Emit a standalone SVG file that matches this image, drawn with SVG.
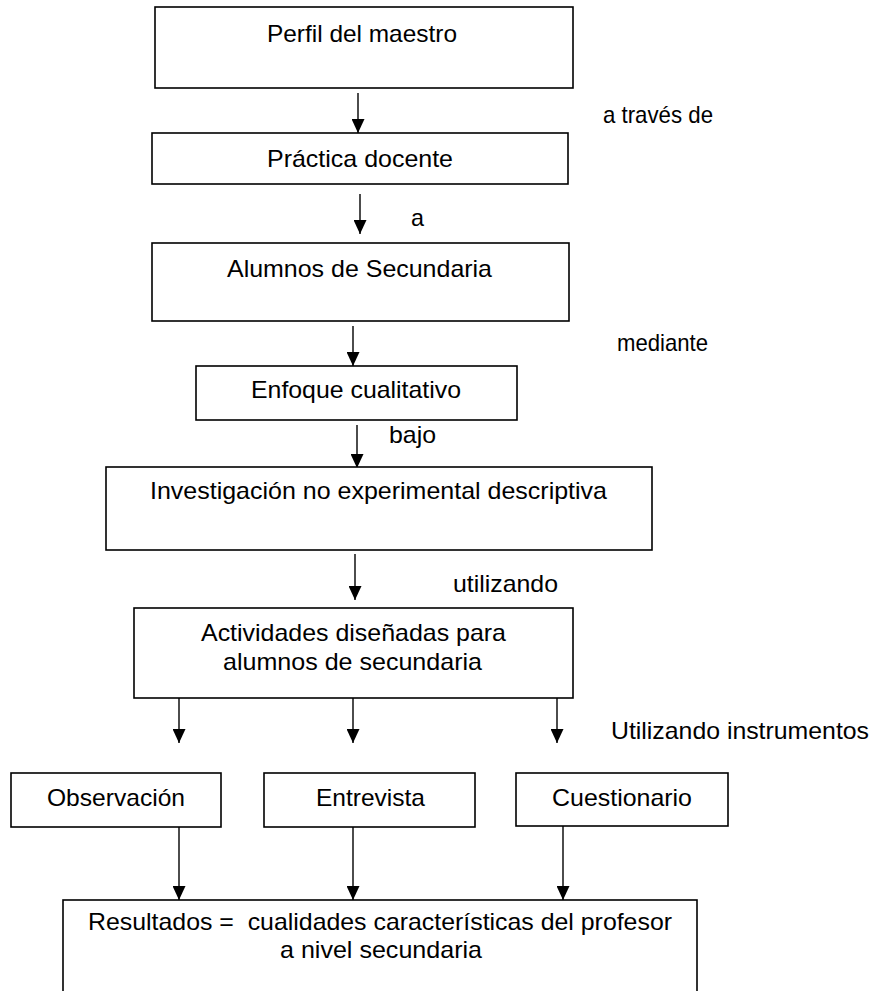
<svg xmlns="http://www.w3.org/2000/svg" width="876" height="991" viewBox="0 0 876 991">
  <style>
    .box { fill: #ffffff; stroke: #000000; stroke-width: 1.6; }
    .t { font-family: "Liberation Sans", Arial, sans-serif; font-size: 24px; fill: #000000; }
    .c { stroke: #000000; stroke-width: 1.4; fill: none; marker-end: url(#arr); }
  </style>
  <defs>
    <marker id="arr" viewBox="0 0 14 13" refX="14" refY="6.5" markerWidth="14" markerHeight="13" markerUnits="userSpaceOnUse" orient="auto">
      <path d="M0,0 L14,6.5 L0,13 z" fill="#000000"/>
    </marker>
  </defs>
  <rect width="876" height="991" fill="#ffffff"/>

  <g id="connectors">
    <line class="c" x1="358" y1="93" x2="358" y2="133"/>
    <line class="c" x1="360" y1="194" x2="360" y2="234"/>
    <line class="c" x1="353" y1="326" x2="353" y2="366"/>
    <line class="c" x1="357" y1="425" x2="357" y2="468"/>
    <line class="c" x1="355" y1="554" x2="355" y2="600"/>
    <line class="c" x1="179" y1="698" x2="179" y2="743"/>
    <line class="c" x1="353" y1="698" x2="353" y2="743"/>
    <line class="c" x1="557" y1="698" x2="557" y2="743"/>
    <line class="c" x1="179" y1="827" x2="179" y2="900"/>
    <line class="c" x1="353" y1="827" x2="353" y2="900"/>
    <line class="c" x1="563" y1="826" x2="563" y2="900"/>
  </g>

  <g id="labels">
    <text class="t" x="603" y="123" textLength="110" lengthAdjust="spacingAndGlyphs">a través de</text>
    <text class="t" x="411" y="226" textLength="13" lengthAdjust="spacingAndGlyphs">a</text>
    <text class="t" x="617" y="351" textLength="91" lengthAdjust="spacingAndGlyphs">mediante</text>
    <text class="t" x="389" y="443" textLength="47" lengthAdjust="spacingAndGlyphs">bajo</text>
    <text class="t" x="453" y="592" textLength="105" lengthAdjust="spacingAndGlyphs">utilizando</text>
    <text class="t" x="611" y="739" textLength="258" lengthAdjust="spacingAndGlyphs">Utilizando instrumentos</text>
  </g>

  <g id="perfil">
    <rect class="box" x="155" y="7" width="418" height="81"/>
    <text class="t" x="267" y="42" textLength="190" lengthAdjust="spacingAndGlyphs">Perfil del maestro</text>
  </g>

  <g id="practica">
    <rect class="box" x="152" y="133" width="416" height="51"/>
    <text class="t" x="267" y="167" textLength="186" lengthAdjust="spacingAndGlyphs">Práctica docente</text>
  </g>

  <g id="alumnos">
    <rect class="box" x="152" y="243" width="417" height="78"/>
    <text class="t" x="227" y="277" textLength="265" lengthAdjust="spacingAndGlyphs">Alumnos de Secundaria</text>
  </g>

  <g id="enfoque">
    <rect class="box" x="196" y="366" width="321" height="54"/>
    <text class="t" x="251" y="398" textLength="210" lengthAdjust="spacingAndGlyphs">Enfoque cualitativo</text>
  </g>

  <g id="investigacion">
    <rect class="box" x="106" y="467" width="546" height="83"/>
    <text class="t" x="150" y="499" textLength="457" lengthAdjust="spacingAndGlyphs">Investigación no experimental descriptiva</text>
  </g>

  <g id="actividades">
    <rect class="box" x="134" y="608" width="439" height="90"/>
    <text class="t" x="201" y="641" textLength="305" lengthAdjust="spacingAndGlyphs">Actividades diseñadas para</text>
    <text class="t" x="223" y="670" textLength="259" lengthAdjust="spacingAndGlyphs">alumnos de secundaria</text>
  </g>

  <g id="observacion">
    <rect class="box" x="11" y="773" width="210" height="54"/>
    <text class="t" x="47" y="806" textLength="138" lengthAdjust="spacingAndGlyphs">Observación</text>
  </g>

  <g id="entrevista">
    <rect class="box" x="264" y="773" width="211" height="54"/>
    <text class="t" x="316" y="806" textLength="109" lengthAdjust="spacingAndGlyphs">Entrevista</text>
  </g>

  <g id="cuestionario">
    <rect class="box" x="516" y="773" width="212" height="53"/>
    <text class="t" x="552" y="806" textLength="140" lengthAdjust="spacingAndGlyphs">Cuestionario</text>
  </g>

  <g id="resultados">
    <rect class="box" x="63" y="900" width="634" height="120"/>
    <text class="t" x="88" y="930" textLength="584" lengthAdjust="spacingAndGlyphs" xml:space="preserve">Resultados =  cualidades características del profesor</text>
    <text class="t" x="280" y="958" textLength="202" lengthAdjust="spacingAndGlyphs">a nivel secundaria</text>
  </g>
</svg>
